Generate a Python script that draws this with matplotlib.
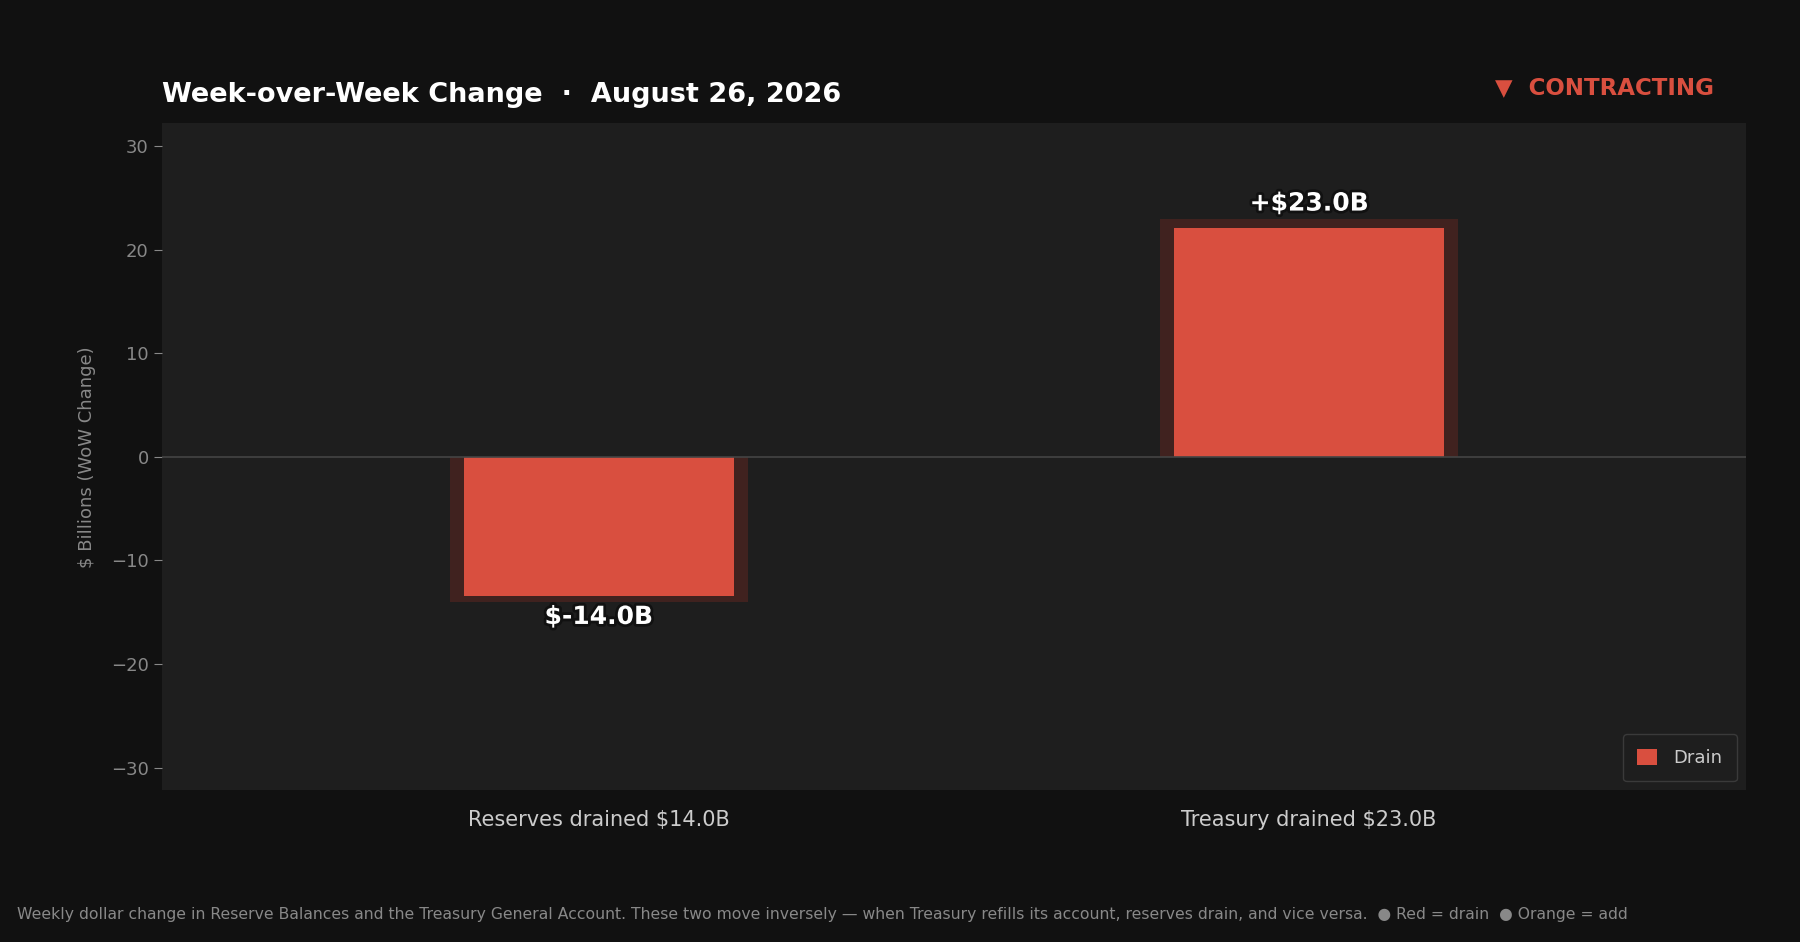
import matplotlib.pyplot as plt
import matplotlib.patheffects as pe
import numpy as np

# data
categories = ["Reserves drained $14.0B", "Treasury drained $23.0B"]
values = [-14.0, 23.0]
value_labels = ["$-14.0B", "+$23.0B"]

bg = "#111111"
panel = "#1e1e1e"
red = "#d94f3f"
glow = "#40221f"

fig = plt.figure(figsize=(18, 9.42), dpi=100, facecolor=bg)
ax = fig.add_axes([0.09, 0.161, 0.88, 0.708])
ax.set_facecolor(panel)

x = np.arange(len(categories))
vals = np.array(values)

# glow bar behind, main bar slightly smaller
ax.bar(x, vals, width=0.42, color=glow, zorder=2)
ax.bar(x, vals * 0.96, width=0.38, color=red, zorder=3, label="Drain")
ax.axhline(0, color="#444444", linewidth=1.2, zorder=4)

lim = np.abs(vals).max() * 1.4
ax.set_ylim(-lim, lim)
ax.set_xlim(-0.615, 1.615)

for xi, v, lab in zip(x, vals, value_labels):
    off = 0.3 if v > 0 else -0.3
    ax.text(xi, v + off, lab, ha="center", va="bottom" if v > 0 else "top",
            fontsize=18, fontweight="bold", color="white", zorder=5,
            path_effects=[pe.withStroke(linewidth=4, foreground="#111111")])

ax.set_xticks(x)
ax.set_xticklabels(categories, fontsize=15, color="#cccccc")
ax.tick_params(axis="x", length=0, pad=14)
ax.tick_params(axis="y", colors="#888888", labelsize=13, length=6)
ax.set_yticks([-30, -20, -10, 0, 10, 20, 30])
ax.set_ylabel("$ Billions (WoW Change)", color="#888888", fontsize=13, labelpad=11)
for s in ax.spines.values():
    s.set_visible(False)

leg = ax.legend(loc="lower right", fontsize=13, facecolor=panel, edgecolor="#3a3a3a",
                labelcolor="#cccccc", framealpha=1, borderpad=0.8,
                handlelength=1.1, handleheight=1.0, handletextpad=0.9)

fig.text(0.09, 0.899, "Week-over-Week Change  \u00b7  August 26, 2026", fontsize=19.5,
         fontweight="bold", color="white", ha="left", va="center")
fig.text(0.952, 0.907, "\u25bc  CONTRACTING", fontsize=16.5, fontweight="bold",
         color=red, ha="right", va="center")
fig.text(0.0095, 0.029, "Weekly dollar change in Reserve Balances and the Treasury General Account. "
         "These two move inversely \u2014 when Treasury refills its account, reserves drain, and vice versa.  "
         "\u25cf Red = drain  \u25cf Orange = add", fontsize=11.25, color="#888888", ha="left", va="center")

fig.savefig("out.png", dpi=100, facecolor=bg)
